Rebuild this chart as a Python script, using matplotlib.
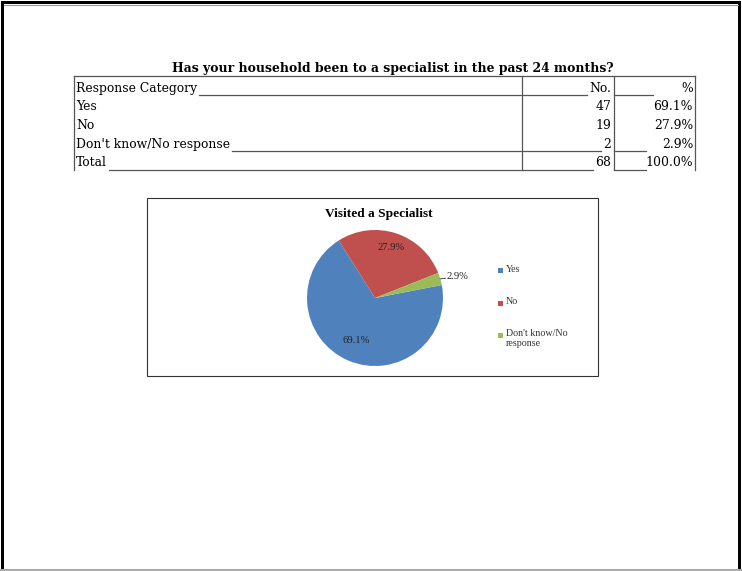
import matplotlib
matplotlib.use("Agg")
import matplotlib.pyplot as plt
from matplotlib.patches import Rectangle
import numpy as np

# ---------------- data ----------------
table_title = "Has your household been to a specialist in the past 24 months?"
header = ["Response Category", "No.", "%"]
categories = ["Yes", "No", "Don't know/No response"]
counts = [47, 19, 2]
percents = [69.1, 27.9, 2.9]
total_label = "Total"
total_percent = 100.0
chart_title = "Visited a Specialist"
legend_labels = ["Yes", "No", "Don't know/No\nresponse"]
colors = ["#4F81BD", "#C0504D", "#9BBB59"]

# ---------------- figure ----------------
W, H = 742, 571
fig = plt.figure(figsize=(W / 100, H / 100), dpi=100)
ax = fig.add_axes([0, 0, 1, 1])
ax.set_xlim(0, W)
ax.set_ylim(H, 0)
ax.axis("off")

# page border
ax.add_patch(Rectangle((1, 1), W - 2, 3, color="black", lw=0))
ax.add_patch(Rectangle((1, 1), 3, H - 2, color="black", lw=0))
ax.add_patch(Rectangle((738, 1), 3, H - 2, color="black", lw=0))
ax.plot([4, 738], [4.8, 4.8], color="#999999", lw=0.8)
ax.plot([1, 741], [569.8, 569.8], color="#aaaaaa", lw=1.5)

# ---------------- table ----------------
serif = "DejaVu Serif"
fs = 8.9
lc = "#555555"
lw = 0.9
x_left, x_col1, x_col2, x_right = 74, 522, 614, 695
top = 76
row_lines = [95, 113.5, 132.5, 151, 169.5]

ax.text(393, 72, table_title, family=serif, weight="bold", fontsize=8.9,
        ha="center", va="baseline", color="black")

# frame lines
ax.plot([x_left, x_right], [top, top], color=lc, lw=lw)
for xv in (x_left, x_col1, x_col2, x_right):
    ax.plot([xv, xv], [top, row_lines[-1]], color=lc, lw=lw)

rows = [header]
for c, n, p in zip(categories, counts, percents):
    rows.append([c, str(n), f"{p:.1f}%"])
rows.append([total_label, str(sum(counts)), f"{total_percent:.1f}%"])
leader_rows = {0, 3, 4}
pct_leader_end = {0: 653, 3: 646, 4: 646}

fig.canvas.draw()
renderer = fig.canvas.get_renderer()
inv = ax.transData.inverted()

for i, (r, line_y) in enumerate(zip(rows, row_lines)):
    yb = line_y - 3.2
    t0 = ax.text(x_left + 2, yb, r[0], family=serif, fontsize=fs, ha="left", va="baseline")
    t1 = ax.text(x_col2 - 3, yb, r[1], family=serif, fontsize=fs, ha="right", va="baseline")
    t2 = ax.text(x_right - 2, yb, r[2], family=serif, fontsize=fs, ha="right", va="baseline")
    if i in leader_rows:
        e0 = t0.get_window_extent(renderer)
        e1 = t1.get_window_extent(renderer)
        xs = inv.transform([[e0.x1, 0], [e1.x0, 0]])[:, 0]
        ax.plot([xs[0] + 2, xs[1] - 2], [line_y, line_y], color=lc, lw=lw)
        ax.plot([x_col2, pct_leader_end[i]], [line_y, line_y], color=lc, lw=lw)

# ---------------- chart frame ----------------
ax.add_patch(Rectangle((147, 198), 451, 178, fill=False, edgecolor="#333333", lw=0.8))
ax.text(379, 217, chart_title, family="Liberation Serif", weight="bold", fontsize=9.6,
        ha="center", va="baseline")

# legend (manual)
leg_y = [270, 303, 335]
for lab, col, yy in zip(legend_labels, colors, leg_y):
    ax.add_patch(Rectangle((498, yy - 2.5), 5, 5, color=col, lw=0))
    ax.text(506, yy - 5.5, lab, family="Liberation Serif", fontsize=7.2, ha="left", va="top",
            color="#333333", linespacing=1.1)

# ---------------- pie ----------------
cx, cy, R = 375, 298, 68
pax = fig.add_axes([(cx - R) / W, (H - cy - R) / H, 2 * R / W, 2 * R / H])
pax.set_facecolor("none")
wedges, _ = pax.pie(counts, colors=colors, startangle=11, counterclock=False,
                    radius=1, wedgeprops=dict(linewidth=0))
pax.set_xlim(-1, 1)
pax.set_ylim(-1, 1)
pax.set_aspect("equal")
pax.axis("off")

label_r = [0.68, 0.78, None]
for w, p, rr in zip(wedges, percents, label_r):
    mid = np.deg2rad((w.theta1 + w.theta2) / 2)
    txt = f"{p:.1f}%"
    if rr is not None:
        pax.text(rr * np.cos(mid), rr * np.sin(mid), txt, family="Liberation Serif",
                 fontsize=7.6, ha="center", va="center", color="#222222")
    else:
        x0, y0 = np.cos(mid), np.sin(mid)
        pax.plot([x0 * 1.0, x0 * 1.08], [y0 * 1.0, y0 * 1.0 + 0.01], color="#333333", lw=0.6,
                 clip_on=False)
        pax.text(x0 * 1.1, y0 * 1.0 + 0.04, txt, family="Liberation Serif", fontsize=7.6,
                 ha="left", va="center", color="#222222", clip_on=False)

fig.savefig("out.png", dpi=100)
